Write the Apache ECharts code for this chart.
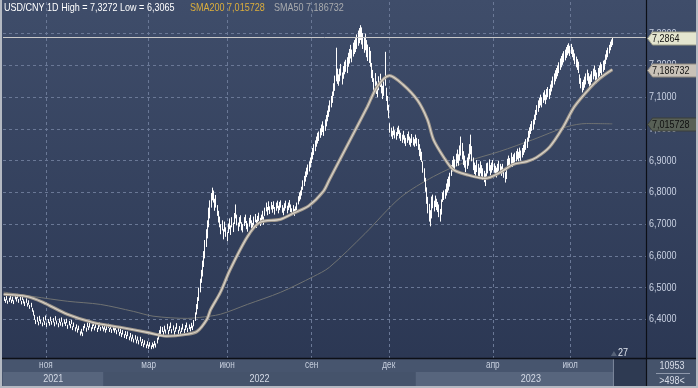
<!DOCTYPE html>
<html><head><meta charset="utf-8">
<script src="https://cdn.jsdelivr.net/npm/echarts@6/dist/echarts.min.js"></script>
<style>html,body{margin:0;padding:0;background:#33405a;}#c{width:698px;height:388px;}</style>
</head><body><div id="c"></div>
<script>
// daily bars: [low, high]
const bars = [
[6.458,6.470],[6.452,6.463],[6.460,6.474],[6.449,6.459],[6.455,6.468],[6.462,6.476],[6.451,6.462],[6.457,6.471],[6.448,6.460],[6.463,6.478],
[6.456,6.470],[6.466,6.480],[6.452,6.464],[6.459,6.475],[6.447,6.458],[6.461,6.473],[6.450,6.463],[6.442,6.456],[6.452,6.466],[6.440,6.451],
[6.446,6.460],[6.433,6.445],[6.438,6.452],[6.424,6.436],[6.412,6.428],[6.398,6.414],[6.385,6.398],[6.392,6.408],[6.381,6.393],[6.395,6.411],
[6.386,6.399],[6.378,6.390],[6.393,6.407],[6.382,6.394],[6.397,6.412],[6.376,6.389],[6.388,6.401],[6.380,6.392],[6.394,6.408],[6.383,6.395],
[6.390,6.404],[6.378,6.391],[6.396,6.410],[6.384,6.396],[6.375,6.388],[6.389,6.403],[6.380,6.392],[6.392,6.406],[6.377,6.390],[6.386,6.399],
[6.379,6.391],[6.388,6.402],[6.370,6.383],[6.381,6.395],[6.372,6.385],[6.385,6.398],[6.366,6.378],[6.376,6.390],[6.362,6.375],[6.371,6.384],
[6.358,6.371],[6.366,6.380],[6.349,6.362],[6.355,6.370],[6.347,6.359],[6.364,6.379],[6.372,6.386],[6.361,6.374],[6.376,6.390],[6.366,6.378],
[6.374,6.389],[6.362,6.375],[6.370,6.384],[6.379,6.392],[6.365,6.377],[6.373,6.387],[6.360,6.373],[6.369,6.383],[6.377,6.390],[6.364,6.376],
[6.371,6.385],[6.362,6.374],[6.368,6.382],[6.358,6.370],[6.366,6.380],[6.373,6.386],[6.360,6.372],[6.369,6.383],[6.357,6.369],[6.365,6.378],
[6.358,6.372],[6.366,6.379],[6.353,6.366],[6.361,6.375],[6.348,6.360],[6.356,6.370],[6.344,6.357],[6.352,6.366],[6.341,6.353],[6.350,6.363],
[6.338,6.351],[6.347,6.362],[6.334,6.346],[6.343,6.357],[6.330,6.343],[6.339,6.352],[6.327,6.339],[6.336,6.350],[6.324,6.336],[6.333,6.346],
[6.321,6.334],[6.330,6.345],[6.316,6.329],[6.325,6.338],[6.312,6.324],[6.320,6.334],[6.309,6.321],[6.317,6.331],[6.307,6.319],[6.314,6.328],
[6.306,6.318],[6.313,6.327],[6.308,6.322],[6.318,6.332],[6.311,6.324],[6.324,6.342],[6.336,6.356],[6.345,6.366],[6.352,6.378],[6.360,6.376],
[6.350,6.363],[6.362,6.380],[6.355,6.368],[6.368,6.386],[6.352,6.366],[6.363,6.378],[6.372,6.390],[6.356,6.369],[6.365,6.381],[6.350,6.364],
[6.361,6.375],[6.370,6.388],[6.354,6.367],[6.364,6.379],[6.349,6.362],[6.360,6.374],[6.368,6.386],[6.357,6.370],[6.366,6.382],[6.374,6.390],
[6.360,6.373],[6.369,6.384],[6.362,6.376],[6.372,6.389],[6.366,6.380],[6.378,6.398],[6.395,6.422],[6.415,6.448],[6.432,6.470],[6.458,6.500],
[6.485,6.528],[6.515,6.556],[6.535,6.585],[6.565,6.615],[6.592,6.650],[6.628,6.684],[6.655,6.712],[6.690,6.752],[6.718,6.775],[6.752,6.798],
[6.775,6.815],[6.768,6.806],[6.742,6.780],[6.752,6.792],[6.726,6.760],[6.705,6.742],[6.690,6.724],[6.668,6.700],[6.680,6.712],[6.652,6.684],
[6.676,6.708],[6.660,6.690],[6.646,6.675],[6.672,6.702],[6.684,6.718],[6.666,6.696],[6.690,6.722],[6.675,6.705],[6.700,6.735],[6.718,6.762],
[6.696,6.730],[6.678,6.705],[6.692,6.722],[6.702,6.728],[6.680,6.706],[6.674,6.700],[6.694,6.722],[6.703,6.730],[6.684,6.710],[6.676,6.702],
[6.692,6.720],[6.702,6.729],[6.686,6.712],[6.678,6.704],[6.696,6.724],[6.706,6.732],[6.688,6.714],[6.700,6.726],[6.710,6.736],[6.694,6.720],
[6.702,6.730],[6.714,6.742],[6.698,6.724],[6.726,6.752],[6.740,6.768],[6.728,6.754],[6.744,6.772],[6.732,6.756],[6.746,6.770],[6.736,6.760],
[6.748,6.772],[6.730,6.754],[6.742,6.768],[6.750,6.774],[6.734,6.758],[6.744,6.770],[6.752,6.775],[6.736,6.760],[6.728,6.752],[6.742,6.766],
[6.750,6.774],[6.734,6.758],[6.744,6.768],[6.752,6.776],[6.738,6.762],[6.728,6.750],[6.738,6.760],[6.726,6.748],[6.734,6.756],[6.744,6.768],
[6.762,6.788],[6.772,6.800],[6.778,6.806],[6.790,6.818],[6.808,6.838],[6.820,6.852],[6.834,6.866],[6.848,6.878],[6.856,6.888],[6.866,6.898],
[6.878,6.910],[6.892,6.926],[6.904,6.940],[6.918,6.952],[6.930,6.964],[6.944,6.976],[6.954,6.988],[6.962,6.992],[6.972,7.002],[6.980,7.014],
[6.990,7.024],[6.978,7.010],[6.994,7.030],[7.008,7.044],[7.024,7.058],[7.038,7.074],[7.054,7.090],[7.068,7.104],[7.082,7.118],[7.104,7.144],
[7.120,7.168],[7.150,7.256],[7.142,7.190],[7.136,7.172],[7.150,7.190],[7.168,7.205],[7.140,7.178],[7.158,7.198],[7.172,7.212],[7.180,7.218],
[7.176,7.226],[7.196,7.240],[7.206,7.252],[7.222,7.265],[7.210,7.250],[7.228,7.272],[7.236,7.280],[7.242,7.286],[7.252,7.298],[7.262,7.310],
[7.270,7.318],[7.280,7.327],[7.266,7.320],[7.252,7.302],[7.240,7.290],[7.248,7.300],[7.226,7.280],[7.214,7.266],[7.208,7.258],[7.196,7.246],
[7.160,7.208],[7.148,7.186],[7.118,7.160],[7.134,7.176],[7.110,7.150],[7.100,7.142],[7.122,7.166],[7.132,7.174],[7.112,7.152],[7.094,7.136],
[7.104,7.150],[7.136,7.243],[7.088,7.130],[7.058,7.104],[7.034,7.076],[6.988,7.018],[6.976,7.004],[6.968,6.994],[6.980,7.008],[6.970,6.996],
[6.966,6.990],[6.978,7.004],[6.984,7.010],[6.970,6.996],[6.962,6.988],[6.956,6.982],[6.966,6.994],[6.954,6.980],[6.946,6.972],[6.956,6.984],
[6.964,6.992],[6.950,6.976],[6.944,6.970],[6.956,6.984],[6.948,6.974],[6.944,6.968],[6.954,6.982],[6.946,6.972],[6.934,6.968],[6.914,6.952],
[6.902,6.938],[6.896,6.928],[6.862,6.898],[6.834,6.876],[6.802,6.846],[6.764,6.816],[6.734,6.786],[6.708,6.764],[6.693,6.744],[6.718,6.787],
[6.750,6.793],[6.740,6.774],[6.754,6.790],[6.744,6.780],[6.738,6.770],[6.722,6.762],[6.708,6.748],[6.730,6.778],[6.770,6.800],[6.776,6.806],
[6.780,6.810],[6.790,6.828],[6.800,6.842],[6.806,6.850],[6.818,6.862],[6.852,6.886],[6.866,6.902],[6.876,6.914],[6.868,6.904],[6.882,6.922],
[6.892,6.935],[6.884,6.920],[6.900,6.948],[6.916,6.976],[6.904,6.956],[6.886,6.930],[6.878,6.916],[6.864,6.900],[6.874,6.910],[6.884,6.922],
[6.904,6.952],[6.920,6.982],[6.898,6.946],[6.870,6.910],[6.858,6.894],[6.850,6.886],[6.864,6.902],[6.852,6.890],[6.842,6.878],[6.860,6.898],
[6.850,6.886],[6.840,6.876],[6.832,6.868],[6.820,6.860],[6.850,6.892],[6.860,6.894],[6.868,6.904],[6.854,6.886],[6.862,6.894],[6.870,6.902],
[6.862,6.892],[6.854,6.884],[6.847,6.878],[6.858,6.890],[6.868,6.900],[6.860,6.890],[6.852,6.882],[6.860,6.890],[6.846,6.874],[6.831,6.864],
[6.842,6.870],[6.876,6.906],[6.884,6.916],[6.878,6.908],[6.890,6.925],[6.880,6.912],[6.888,6.920],[6.894,6.925],[6.898,6.930],[6.904,6.938],
[6.898,6.928],[6.908,6.941],[6.900,6.932],[6.910,6.940],[6.918,6.950],[6.926,6.960],[6.934,6.968],[6.940,6.973],[6.960,6.994],[6.972,7.005],
[6.984,7.015],[6.994,7.025],[6.998,7.030],[7.014,7.045],[7.028,7.060],[7.044,7.075],[7.054,7.090],[7.066,7.098],[7.074,7.108],[7.068,7.100],
[7.082,7.115],[7.090,7.122],[7.078,7.108],[7.092,7.126],[7.100,7.132],[7.094,7.126],[7.106,7.140],[7.118,7.152],[7.130,7.165],[7.140,7.175],
[7.150,7.185],[7.158,7.192],[7.166,7.200],[7.176,7.210],[7.186,7.222],[7.194,7.230],[7.202,7.238],[7.210,7.245],[7.216,7.250],[7.224,7.258],
[7.232,7.265],[7.238,7.270],[7.230,7.262],[7.236,7.268],[7.226,7.258],[7.216,7.250],[7.204,7.238],[7.194,7.228],[7.186,7.220],[7.176,7.212],
[7.142,7.172],[7.128,7.160],[7.115,7.148],[7.122,7.155],[7.130,7.165],[7.140,7.175],[7.152,7.187],[7.142,7.176],[7.132,7.166],[7.138,7.172],
[7.148,7.182],[7.156,7.190],[7.166,7.200],[7.152,7.186],[7.144,7.178],[7.158,7.192],[7.166,7.200],[7.176,7.210],[7.170,7.204],[7.180,7.215],
[7.186,7.218],[7.204,7.235],[7.218,7.248],[7.226,7.256],[7.238,7.265],[7.248,7.275],[7.258,7.282],[7.264,7.287]
];
// moving averages read at sample bars: [barIndex, value]
const sma50 = [[0,6.479],[19,6.472],[32,6.454],[52,6.416],[73,6.390],[95,6.375],[117,6.359],[133,6.347],[150,6.353],[158,6.362],[166,6.400],[169,6.430],[177,6.485],[185,6.557],[199,6.660],[209,6.705],[226,6.715],[237,6.735],[249,6.757],[261,6.803],[266,6.840],[283,6.966],[297,7.070],[305,7.133],[315,7.168],[326,7.140],[338,7.090],[346,7.030],[351,6.966],[359,6.913],[367,6.872],[378,6.856],[393,6.844],[405,6.862],[416,6.888],[427,6.897],[435,6.910],[446,6.944],[457,7.007],[466,7.070],[479,7.130],[487,7.160],[497,7.187]];
const sma200 = [[0,6.486],[24,6.472],[52,6.457],[79,6.447],[106,6.425],[122,6.410],[150,6.403],[160,6.406],[177,6.416],[199,6.447],[226,6.485],[253,6.535],[266,6.564],[295,6.670],[324,6.784],[351,6.850],[378,6.897],[405,6.929],[432,6.966],[460,7.007],[476,7.017],[497,7.016]];
const yTicks = [6.4,6.5,6.6,6.7,6.8,6.9,7.0,7.1,7.2,7.3];
const monthLabels = ['ноя','мар','июн','сен','дек','апр','июл'];
const monthBars = [35,119,183,252,315,400,463];
const yearLabels = ['2021','2022','2023'];
const yearStartBars = [0,82,337];
const lastPrice = 7.2864, sma50Last = 7.186732, sma200Last = 7.015728;
const rightOffset = 27, barsTotal = 10953;
const slotCount = bars.length + rightOffset;
const cats = Array.from({length: slotCount}, (_, i) => String(i));
const fmt = v => v.toFixed(4).replace('.', ',');
const fmt6 = v => v.toFixed(6).replace('.', ',');

const chart = echarts.init(document.getElementById('c'));
const FONT = "'Liberation Sans', Arial, sans-serif";
const NARROW = 0.82;
const gridColor = '#6a7896';
const yColors = [];
for (let v = 6.2; v < 7.45; v += 0.1) yColors.push((v > 6.35 && v < 7.35) ? gridColor : 'rgba(0,0,0,0)');

chart.setOption({
  animation: false,
  backgroundColor: {type:'linear', x:0, y:0, x2:0, y2:1, colorStops:[{offset:0,color:'#3f4d6a'},{offset:1,color:'#2a3652'}]},
  grid: {left: 3, right: 52, top: 2, bottom: 5.2},
  xAxis: {
    type: 'category', data: cats, boundaryGap: true,
    axisLine: {show:false}, axisTick: {show:false}, axisLabel: {show:false},
    splitLine: {show:true, interval: (i) => monthBars.indexOf(i) >= 0, lineStyle:{color:gridColor, type:[3,3], width:1}}
  },
  yAxis: {
    type: 'value', position: 'right', min: 6.2, max: 7.4, interval: 0.1,
    axisLine: {show:false}, axisTick: {show:false}, axisLabel: {show:false},
    splitLine: {show:true, lineStyle:{color: yColors, type:[3,3], width:1}}
  },
  series: [
    {
      type: 'custom', name: 'USD/CNY',
      data: bars.map((b, i) => [i, b[0], b[1]]),
      encode: {x: 0, y: [1, 2]},
      renderItem: (params, api) => {
        const p1 = api.coord([api.value(0), api.value(1)]);
        const p2 = api.coord([api.value(0), api.value(2)]);
        const x = Math.round(p1[0]) + 0.5;
        return {type:'line', shape:{x1:x, y1:p1[1], x2:x, y2:p2[1]}, style:{stroke:'#ffffff', lineWidth:1}};
      },
      z: 3
    },
    {
      type: 'line', name: 'SMA200', data: sma200, smooth: 0.3, showSymbol: false,
      lineStyle: {color:'#6f7272', width: 1}, z: 2
    },
    {
      type: 'line', name: 'SMA50', data: sma50, smooth: 0.3, showSymbol: false,
      lineStyle: {color:'#9f978c', width: 3.2}, z: 4,
      markLine: {silent:true, symbol:'none', animation:false, label:{show:false},
        data: [{yAxis: lastPrice}],
        lineStyle:{color:'#c9c9c9', width:1, type:'solid'}}
    },
    {
      type: 'line', name: 'SMA50core', data: sma50, smooth: 0.3, showSymbol: false,
      lineStyle: {color:'#d9d3c9', width: 1.2}, z: 5
    }
  ]
});

// labels, bottom band and decorations, positioned through the axis scales
const px = i => chart.convertToPixel({xAxisIndex:0}, i);
const py = v => chart.convertToPixel({yAxisIndex:0}, v);
const bw = px(1) - px(0);
const edge = i => px(i) - bw / 2;
const plotR = 646, bandTop = 359, bandBot = 386;
const els = [];
const txt = (text, x, y, color, size, align, z) => els.push({type:'text', x, y, scaleX: NARROW,
  style:{text, fill: color, font: size + 'px ' + FONT, align: align || 'left', verticalAlign:'middle'}, z: z || 60});

yTicks.forEach(v => txt(fmt(v), plotR + 3, py(v), '#c9d1e2', 11, 'left', 60));

els.push({type:'rect', shape:{x:0, y:bandTop, width:698, height:bandBot-bandTop+2}, style:{fill:'#47556e'}, z:50});
const yearEdges = yearStartBars.map((b, k) => k === 0 ? 3 : edge(b)).concat([plotR]);
yearLabels.forEach((t, k) => {
  const x0 = yearEdges[k], x1 = yearEdges[k+1];
  els.push({type:'rect', shape:{x:x0, y:372, width:x1-x0, height:bandBot-372}, style:{fill: k === 1 ? '#45536b' : '#57657d'}, z:51});
  txt(t, (x0+x1)/2, 379, '#d4dae6', 11, 'center');
});
monthLabels.forEach((t, k) => txt(t, edge(monthBars[k]), 365.5, '#c8d0df', 10, 'center'));
const endX = edge(bars.length);
els.push({type:'rect', shape:{x:endX+1, y:bandTop, width:plotR-endX-1, height:bandBot-bandTop}, style:{fill:'#2e3a52'}, z:55});
els.push({type:'line', shape:{x1:endX+0.5, y1:bandTop, x2:endX+0.5, y2:bandBot}, style:{stroke:'#7d889c', lineWidth:1}, z:56});
els.push({type:'rect', shape:{x:plotR, y:bandTop, width:52, height:bandBot-bandTop}, style:{fill:'#45536b'}, z:55});
txt(String(barsTotal), 672, 366, '#d8dde8', 11, 'center');
els.push({type:'line', shape:{x1:656, y1:373.5, x2:690, y2:373.5}, style:{stroke:'#8e98ab', lineWidth:1}, z:60});
txt('>' + bars.length + '<', 672, 380.5, '#d8dde8', 11, 'center');
// right-offset indicator
txt(String(rightOffset), endX + 5, 353, '#dfe4ee', 11, 'left');
els.push({type:'polygon', shape:{points:[[endX-2,356],[endX+4,356],[endX+1,351]]}, style:{fill:'#58647a'}, z:60});
// price tags on the value axis
[[lastPrice, fmt(lastPrice), '#e4e5cf', '#9c9c88', '#151515'],
 [sma50Last, fmt6(sma50Last), '#c9c2b8', '#8d877f', '#151515'],
 [sma200Last, fmt6(sma200Last), '#586056', '#3a3f3a', '#101010']].forEach(([v, t, f, s, c]) => {
  const y = Math.round(py(v)) + 0.5;
  els.push({type:'polygon', shape:{points:[[plotR+1.5,y],[plotR+6.5,y-6.5],[697,y-6.5],[697,y+6.5],[plotR+6.5,y+6.5]]},
    style:{fill:f, stroke:s, lineWidth:1}, z:75});
  txt(t, plotR + 6, y + 0.5, c, 11, 'left', 76);
});
// frame lines
els.push({type:'line', shape:{x1:0, y1:bandTop-0.5, x2:698, y2:bandTop-0.5}, style:{stroke:'#0c0f16', lineWidth:1.5}, z:70});
els.push({type:'line', shape:{x1:plotR+0.5, y1:0, x2:plotR+0.5, y2:bandBot}, style:{stroke:'#0c0f16', lineWidth:1.2}, z:70});
els.push({type:'rect', shape:{x:0, y:0, width:2, height:388}, style:{fill:'#b4b9c2'}, z:80});
els.push({type:'rect', shape:{x:696, y:0, width:2, height:388}, style:{fill:'#b4b9c2'}, z:80});
els.push({type:'rect', shape:{x:0, y:386, width:698, height:2}, style:{fill:'#b4b9c2'}, z:80});
// header
txt('USD/CNY 1D High = 7,3272 Low = 6,3065', 4, 8, '#ffffff', 11, 'left', 90);
txt('SMA200 ' + fmt6(sma200Last), 190, 8, '#dcae3c', 11, 'left', 90);
txt('SMA50 ' + fmt6(sma50Last), 274, 8, '#a9abae', 11, 'left', 90);
chart.setOption({graphic: {elements: els}});
</script>
</body></html>
